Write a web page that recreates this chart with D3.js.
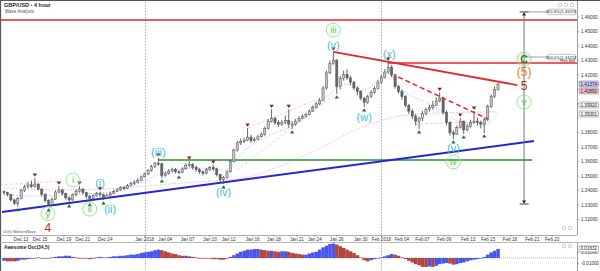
<!DOCTYPE html>
<html><head><meta charset="utf-8">
<script src="https://cdn.jsdelivr.net/npm/d3@7"></script>
<style>
body{margin:0;background:#fff;}
svg{display:block;font-family:"Liberation Sans",Arial,sans-serif;}
</style></head>
<body><svg id="c" width="600" height="271"></svg>
<script>
// ---------- DATA ----------
const firstOpen = 1.3392;
const closes = [1.3385,1.3372,1.3335,1.3310,1.3345,1.3400,1.3425,1.3440,1.3430,1.3445,
1.3410,1.3375,1.3330,1.3305,1.3340,1.3390,1.3405,1.3378,1.3350,1.3335,
1.3370,1.3395,1.3410,1.3385,1.3360,1.3345,1.3365,1.3378,1.3372,1.3350,
1.3368,1.3382,1.3395,1.3405,1.3420,1.3415,1.3435,1.3450,1.3458,1.3470,
1.3495,1.3515,1.3540,1.3565,1.3590,1.3585,1.3505,1.3520,1.3535,1.3545,
1.3530,1.3525,1.3550,1.3575,1.3580,1.3560,1.3545,1.3530,1.3520,1.3545,
1.3560,1.3550,1.3510,1.3475,1.3490,1.3530,1.3600,1.3680,1.3730,1.3740,
1.3748,1.3770,1.3745,1.3755,1.3772,1.3790,1.3830,1.3880,1.3900,1.3870,
1.3858,1.3870,1.3885,1.3860,1.3860,1.3880,1.3900,1.3915,1.3925,1.3950,
1.3975,1.4000,1.4025,1.4110,1.4215,1.4280,1.4300,1.4120,1.4175,1.4205,
1.4180,1.4150,1.4110,1.4085,1.4040,1.4010,1.4050,1.4080,1.4105,1.4150,
1.4185,1.4220,1.4250,1.4200,1.4120,1.4085,1.4050,1.3990,1.3950,1.3915,
1.3880,1.3900,1.3935,1.3960,1.3975,1.3990,1.4020,1.4040,1.3940,1.3870,
1.3800,1.3790,1.3835,1.3880,1.3820,1.3845,1.3870,1.3880,1.3870,1.3860,
1.3890,1.3980,1.4050,1.4100,1.4137];
const highs = [1.3402,1.3392,1.3375,1.3345,1.3355,1.3412,1.3440,1.3462,1.3470,1.3487,
1.3450,1.3415,1.3380,1.3340,1.3352,1.3400,1.3432,1.3412,1.3385,1.3360,
1.3380,1.3410,1.3431,1.3418,1.3392,1.3370,1.3375,1.3390,1.3392,1.3378,
1.3380,1.3392,1.3408,1.3418,1.3430,1.3432,1.3445,1.3462,1.3472,1.3485,
1.3505,1.3525,1.3550,1.3578,1.3600,1.3625,1.3592,1.3530,1.3548,1.3558,
1.3555,1.3540,1.3562,1.3590,1.3604,1.3590,1.3572,1.3555,1.3540,1.3558,
1.3570,1.3577,1.3558,1.3515,1.3500,1.3540,1.3612,1.3690,1.3745,1.3760,
1.3765,1.3833,1.3785,1.3770,1.3785,1.3802,1.3842,1.3895,1.3962,1.3912,
1.3885,1.3890,1.3920,1.3962,1.3880,1.3895,1.3915,1.3928,1.3940,1.3962,
1.3990,1.4015,1.4040,1.4122,1.4230,1.4300,1.4358,1.4310,1.4195,1.4230,
1.4240,1.4195,1.4160,1.4120,1.4095,1.4045,1.4062,1.4095,1.4120,1.4165,
1.4200,1.4240,1.4290,1.4270,1.4210,1.4130,1.4100,1.4060,1.4000,1.3965,
1.3930,1.3912,1.3950,1.3975,1.3995,1.4020,1.4045,1.4080,1.4050,1.3955,
1.3880,1.3815,1.3850,1.3902,1.3885,1.3860,1.3890,1.3950,1.3905,1.3885,
1.3905,1.3995,1.4065,1.4120,1.4145];
const lows = [1.3370,1.3360,1.3325,1.3300,1.3288,1.3340,1.3390,1.3415,1.3418,1.3420,
1.3400,1.3360,1.3318,1.3287,1.3300,1.3335,1.3380,1.3365,1.3335,1.3314,
1.3330,1.3360,1.3385,1.3370,1.3345,1.3322,1.3340,1.3358,1.3355,1.3335,
1.3345,1.3360,1.3375,1.3388,1.3398,1.3402,1.3410,1.3430,1.3440,1.3452,
1.3465,1.3490,1.3505,1.3530,1.3555,1.3570,1.3487,1.3495,1.3510,1.3525,
1.3518,1.3514,1.3520,1.3545,1.3560,1.3545,1.3530,1.3515,1.3505,1.3512,
1.3535,1.3535,1.3498,1.3462,1.3445,1.3480,1.3525,1.3595,1.3670,1.3715,
1.3728,1.3742,1.3730,1.3735,1.3748,1.3765,1.3780,1.3822,1.3870,1.3855,
1.3840,1.3848,1.3860,1.3835,1.3826,1.3850,1.3875,1.3895,1.3905,1.3920,
1.3945,1.3968,1.3990,1.4020,1.4100,1.4205,1.4270,1.4068,1.4100,1.4160,
1.4165,1.4130,1.4095,1.4060,1.4025,1.3978,1.4000,1.4040,1.4070,1.4098,
1.4140,1.4175,1.4210,1.4185,1.4105,1.4070,1.4030,1.3975,1.3930,1.3895,
1.3850,1.3826,1.3880,1.3920,1.3945,1.3960,1.3985,1.4010,1.3925,1.3850,
1.3780,1.3757,1.3785,1.3830,1.3791,1.3810,1.3835,1.3860,1.3850,1.3830,
1.3798,1.3880,1.3970,1.4040,1.4090];
const aoValues = [-0.005,-0.006,-0.006,-0.006,-0.005,-0.003,-0.003,-0.002,-0.001,0.000,
0.001,0.000,-0.001,-0.001,0.001,0.002,0.003,0.003,0.004,0.004,
0.002,0.001,0.000,-0.001,-0.001,-0.002,-0.001,0.001,0.002,0.001,
0.001,0.002,0.003,0.003,0.004,0.004,0.005,0.006,0.006,0.007,
0.009,0.010,0.011,0.012,0.014,0.015,0.014,0.012,0.010,0.008,
0.007,0.005,0.004,0.004,0.003,0.002,0.001,0.000,-0.001,-0.001,
-0.001,-0.002,-0.002,-0.003,-0.003,-0.001,0.002,0.005,0.008,0.011,
0.013,0.015,0.015,0.016,0.016,0.015,0.014,0.013,0.013,0.012,
0.011,0.012,0.012,0.011,0.009,0.008,0.007,0.006,0.006,0.008,
0.010,0.011,0.015,0.019,0.022,0.025,0.026,0.024,0.021,0.018,
0.015,0.012,0.009,0.005,0.001,-0.004,-0.006,-0.004,-0.002,0.000,
0.001,0.003,0.005,0.007,0.006,0.004,0.001,-0.002,-0.005,-0.008,
-0.011,-0.013,-0.016,-0.016,-0.015,-0.016,-0.014,-0.011,-0.010,-0.009,
-0.010,-0.012,-0.011,-0.009,-0.008,-0.006,-0.004,-0.003,-0.002,0.000,
0.002,0.006,0.010,0.013,0.016];

const dateLabels = ["Dec 13","Dec 15","Dec 19","Dec 21","Dec 24","Jan 2018","Jan 04","Jan 07","Jan 10","Jan 12","Jan 16","Jan 18","Jan 21","Jan 24","Jan 26","Jan 30","Feb 2018","Feb 04","Feb 07","Feb 09","Feb 13","Feb 15","Feb 18","Feb 21","Feb 23"];
const dateIdx = [5,10.5,17.5,23,29.5,41,47,53.5,60,65.5,72.5,78.7,85.4,90.6,97,104,110,116,122,128.3,135.3,141.1,147.5,154,159.8];
const monthStartIdx = [41,110];
const priceTicks = [1.32,1.33,1.34,1.35,1.36,1.37,1.38,1.39,1.40,1.41,1.42,1.43,1.44,1.45,1.46];
const priceBoxVals = [1.41374,1.40890,1.39920,1.39301];
const priceBoxKinds = ["last","pink","grey","grey"];
const oscTicks = [0.01,-0.01];
const oscBoxVal = 0.01632;

const swingHighIdx = [9,16,22,28,45,54,61,71,78,83,96,112,127,133,137];
const swingLowIdx = [4,13,19,25,29,46,51,64,84,97,105,121,131,134,140];

const fastMaIdx = [0,10.5,22.2,30.9,39.7,46.9,57.1,64.4,70.3,77.6,86.3,94.2,99.4,105.2,111.7,115.5,124.2,132.9,138.8,144];
const fastMaVal = [1.3369,1.3362,1.3376,1.3390,1.3452,1.3528,1.3556,1.3542,1.3681,1.3784,1.3874,1.4054,1.4137,1.4096,1.4213,1.4110,1.3999,1.3874,1.3847,1.3930];
const slowMaIdx = [0,16.3,33.8,51.3,69.7,80.5,92.1,103.8,115.5,127.1,144];
const slowMaVal = [1.3418,1.3404,1.3418,1.3452,1.3487,1.3570,1.3694,1.3833,1.3916,1.3937,1.3944];
const channelSegs = [[-1.2,1.3438,16.3,1.3466],[67.9,1.3542,96.5,1.4068],[71.1,1.3833,90.7,1.4027],[119.8,1.3861,137.3,1.3874]];

const topResistance = 1.4580;
const sideResistance = {from:112, price:1.4283};
const redTrend = [96,1.4359,149.6,1.4130];
const redDashed = [114.9,1.4186,141.1,1.3895];
const greenLevel = {from:45, to:154, price:1.3611};
const blueTrend = [-0.6,1.3252,154.5,1.3743];
const projIdx = 151.6, projTop = 1.4636, projBottom = 1.3307;
const fibLabels = ["261.8%(1.46376)","200.0%(1.43224)"];
const fibPrices = [1.4636,1.4324];

const waveText  = ["iii","(v)","(x)","(w)","(v)","iv","(iii)","(iv)","i","(i)","ii","(ii)","y","4","v","C","(5)","5"];
const waveIdx   = [96,96,112.3,105,131,131,45,64,20.1,28,25,30.9,12.8,12.8,151.6,151.6,151.6,151.6];
const wavePrice = [1.4511,1.4407,1.4345,1.3909,1.3694,1.3598,1.3667,1.3390,1.3473,1.3452,1.3272,1.3272,1.3240,1.3145,1.4013,1.4310,1.4220,1.4124];
const waveKind  = ["g","c","c","c","c","g","c","c","g","c","g","c","g","b","g","C","o","b"];

// ---------- LAYOUT ----------
const AX = 577, MTOP = 1, MBOT = 235, OTOP = 243, OBOT = 271;
const svg = d3.select("#c");
const x = d3.scaleLinear().domain([0,144]).range([4,498]);
const y = d3.scaleLinear().domain([1.33,1.46]).range([205,17.15]);
const yo = d3.scaleLinear().domain([-0.01,0.01]).range([263.6,252.4]);
const bw = x(1)-x(0);

svg.append("rect").attr("width",600).attr("height",271).attr("fill","#fff");
const defs = svg.append("defs");
defs.append("clipPath").attr("id","mclip").append("rect").attr("x",1).attr("y",MTOP).attr("width",AX-1).attr("height",MBOT-MTOP);
defs.append("clipPath").attr("id","oclip").append("rect").attr("x",1).attr("y",OTOP).attr("width",AX-1).attr("height",OBOT-OTOP);

// month separators
monthStartIdx.forEach(i=>{
  svg.append("line").attr("x1",Math.round(x(i))+0.5).attr("x2",Math.round(x(i))+0.5).attr("y1",2).attr("y2",271)
    .attr("stroke","#999").attr("stroke-dasharray","1.5,1.5").attr("stroke-width",0.8);
});

const m = svg.append("g").attr("clip-path","url(#mclip)");

// MAs and channel lines
const lineGen = d3.line().x(d=>x(d[0])).y(d=>y(d[1])).curve(d3.curveMonotoneX);
m.append("path").attr("d",lineGen(fastMaIdx.map((d,i)=>[d,fastMaVal[i]]))).attr("fill","none")
  .attr("stroke","#a9bdf0").attr("stroke-width",0.8).attr("stroke-dasharray","1.5,1.5");
m.append("path").attr("d",lineGen(slowMaIdx.map((d,i)=>[d,slowMaVal[i]]))).attr("fill","none")
  .attr("stroke","#d7a8e0").attr("stroke-width",0.8).attr("stroke-dasharray","1.5,1.5");
channelSegs.forEach(s=>{
  m.append("line").attr("x1",x(s[0])).attr("y1",y(s[1])).attr("x2",x(s[2])).attr("y2",y(s[3]))
    .attr("stroke","#f2c49a").attr("stroke-width",0.8).attr("stroke-dasharray","3,2");
});

// annotation lines
m.append("line").attr("x1",0).attr("x2",AX).attr("y1",y(topResistance)).attr("y2",y(topResistance)).attr("stroke","#e8262a").attr("stroke-width",1.5);
m.append("line").attr("x1",x(sideResistance.from)).attr("x2",AX).attr("y1",y(sideResistance.price)).attr("y2",y(sideResistance.price)).attr("stroke","#e8262a").attr("stroke-width",1.5);
m.append("line").attr("x1",x(greenLevel.from)).attr("x2",x(greenLevel.to)).attr("y1",y(greenLevel.price)).attr("y2",y(greenLevel.price)).attr("stroke","#2f8f2f").attr("stroke-width",1.5);
m.append("line").attr("x1",x(blueTrend[0])).attr("y1",y(blueTrend[1])).attr("x2",x(blueTrend[2])).attr("y2",y(blueTrend[3])).attr("stroke","#2424d8").attr("stroke-width",2);

// candles
const candles = m.append("g");
closes.forEach((c,i)=>{
  const o = i===0 ? firstOpen : closes[i-1];
  const cx = x(i);
  candles.append("line").attr("x1",cx).attr("x2",cx).attr("y1",y(highs[i])).attr("y2",y(lows[i])).attr("stroke","#555").attr("stroke-width",0.9);
  const top = y(Math.max(o,c)), h = Math.max(1, Math.abs(y(o)-y(c)));
  candles.append("rect").attr("x",cx-1.1).attr("y",top).attr("width",2.2).attr("height",h)
    .attr("fill", c>=o ? "#c4c4c4" : "#666").attr("stroke","#555").attr("stroke-width",0.5);
});

// red trend lines (over candles)
m.append("line").attr("x1",x(redTrend[0])).attr("y1",y(redTrend[1])).attr("x2",x(redTrend[2])).attr("y2",y(redTrend[3])).attr("stroke","#e8262a").attr("stroke-width",1.8);
m.append("line").attr("x1",x(redDashed[0])).attr("y1",y(redDashed[1])).attr("x2",x(redDashed[2])).attr("y2",y(redDashed[3])).attr("stroke","#e8262a").attr("stroke-width",1.5).attr("stroke-dasharray","5,3");

// swing markers
swingHighIdx.forEach(i=>{
  const cx=x(i), cy=y(highs[i]);
  m.append("path").attr("d",`M${cx-2.2},${cy-4.5}L${cx+2.2},${cy-4.5}L${cx},${cy-1.3}Z`).attr("fill","#8a1c1c");
});
swingLowIdx.forEach(i=>{
  const cx=x(i), cy=y(lows[i]);
  m.append("path").attr("d",`M${cx-2.2},${cy+4.5}L${cx+2.2},${cy+4.5}L${cx},${cy+1.3}Z`).attr("fill","#1f7a1f");
});

// projection
const px = x(projIdx);
m.append("line").attr("x1",px).attr("x2",px).attr("y1",y(projTop)).attr("y2",y(projBottom)).attr("stroke","#777").attr("stroke-width",1);
[projTop,projBottom].forEach((p,k)=>{
  const yy=y(p);
  m.append("line").attr("x1",px-4.5).attr("x2",px+4.5).attr("y1",yy).attr("y2",yy).attr("stroke","#444").attr("stroke-width",1);
  const d = k===0 ? `M${px-2},${yy+3.5}L${px+2},${yy+3.5}L${px},${yy+0.5}Z` : `M${px-2},${yy-3.5}L${px+2},${yy-3.5}L${px},${yy-0.5}Z`;
  m.append("path").attr("d",d).attr("fill","#222");
});
fibPrices.forEach((p,k)=>{
  const yy=y(p);
  m.append("line").attr("x1",px).attr("x2",548).attr("y1",yy).attr("y2",yy).attr("stroke","#888").attr("stroke-width",0.8);
  m.append("rect").attr("x",548).attr("y",yy-2.8).attr("width",27.5).attr("height",5.6).attr("fill","#fff").attr("stroke","#888").attr("stroke-width",0.5).attr("rx",1);
  m.append("text").attr("x",561.8).attr("y",yy+1.5).attr("text-anchor","middle").attr("font-size",4.2).attr("fill","#333").text(fibLabels[k]);
});
m.append("text").attr("x",575).attr("y",y(sideResistance.price)-1).attr("text-anchor","end").attr("font-size",4).attr("fill","#222").text("Res 4x4");

// wave labels
waveText.forEach((t,k)=>{
  const cx=x(waveIdx[k]), cy=y(wavePrice[k]), kind=waveKind[k];
  if(kind==="g"){
    m.append("circle").attr("cx",cx).attr("cy",cy).attr("r",7).attr("fill","none").attr("stroke","#86e486").attr("stroke-width",0.9);
    m.append("text").attr("x",cx).attr("y",cy+3.2).attr("text-anchor","middle").attr("font-size",9.5).attr("fill","#3fcf3f").text(t);
  } else if(kind==="C"){
    m.append("circle").attr("cx",cx).attr("cy",cy).attr("r",7.2).attr("fill","none").attr("stroke","#9ad49a").attr("stroke-width",0.8);
    m.append("circle").attr("cx",cx).attr("cy",cy).attr("r",5.8).attr("fill","none").attr("stroke","#9ad49a").attr("stroke-width",0.6);
    m.append("text").attr("x",cx).attr("y",cy+3.6).attr("text-anchor","middle").attr("font-size",10.5).attr("font-weight","bold").attr("fill","#1f8a2a").text(t);
  } else if(kind==="c"){
    m.append("text").attr("x",cx).attr("y",cy+3.8).attr("text-anchor","middle").attr("font-size",11).attr("fill","#3cbfd0").text(t);
  } else if(kind==="o"){
    m.append("text").attr("x",cx).attr("y",cy+4.3).attr("text-anchor","middle").attr("font-size",12).attr("fill","#f07a22").text(t);
  } else {
    m.append("text").attr("x",cx).attr("y",cy+4.3).attr("text-anchor","middle").attr("font-size",12).attr("fill","#a8391b").text(t);
  }
});

// frame lines
svg.append("line").attr("x1",0).attr("x2",600).attr("y1",0.5).attr("y2",0.5).attr("stroke","#555").attr("stroke-width",1.2);
svg.append("line").attr("x1",0.5).attr("x2",0.5).attr("y1",0).attr("y2",271).attr("stroke","#555").attr("stroke-width",1.2);
svg.append("line").attr("x1",0).attr("x2",AX).attr("y1",MBOT+0.5).attr("y2",MBOT+0.5).attr("stroke","#999").attr("stroke-width",0.8);
svg.append("line").attr("x1",0).attr("x2",600).attr("y1",OTOP-0.5).attr("y2",OTOP-0.5).attr("stroke","#aaa").attr("stroke-width",0.8);
svg.append("line").attr("x1",AX+0.5).attr("x2",AX+0.5).attr("y1",MTOP).attr("y2",MBOT).attr("stroke","#888").attr("stroke-width",0.8);
svg.append("line").attr("x1",AX+0.5).attr("x2",AX+0.5).attr("y1",OTOP).attr("y2",OBOT).attr("stroke","#888").attr("stroke-width",0.8);

// title
svg.append("text").attr("x",4).attr("y",7).attr("font-size",5.5).attr("font-weight","bold").attr("fill","#222").text("GBP/USD - 4 hour");
svg.append("text").attr("x",5).attr("y",13).attr("font-size",4.5).attr("fill","#555").text("Wave Analysis");
svg.append("text").attr("x",3).attr("y",233).attr("font-size",4.2).attr("fill","#555").text("⊙⊙⊙  MotiveWave");
// small control icons
[[560,5],[566,5],[572,5],[564,228],[570,228],[564,246],[570,246]].forEach(p=>{
  svg.append("circle").attr("cx",p[0]).attr("cy",p[1]).attr("r",1.8).attr("fill","none").attr("stroke","#aaa").attr("stroke-width",0.6);
});

// price axis
const boxPix = priceBoxVals.map(v=>y(v));
priceTicks.forEach(p=>{
  const yy=y(p);
  if(yy<MTOP+3||yy>MBOT-2) return;
  svg.append("line").attr("x1",AX).attr("x2",AX+2).attr("y1",yy).attr("y2",yy).attr("stroke","#888").attr("stroke-width",0.6);
  if(boxPix.some(b=>Math.abs(b-yy)<5)) return;
  svg.append("text").attr("x",581).attr("y",yy+1.6).attr("font-size",4.6).attr("fill","#333").text(p.toFixed(5));
});
const boxFill = {last:"#c9c9f2",pink:"#eec4c4",grey:"#f4f4f4"};
const boxStroke = {last:"#6a6aa8",pink:"#b46a6a",grey:"#777"};
priceBoxVals.forEach((v,k)=>{
  const yy=y(v), kd=priceBoxKinds[k];
  svg.append("rect").attr("x",579).attr("y",yy-3).attr("width",19.5).attr("height",6).attr("fill",boxFill[kd]).attr("stroke",boxStroke[kd]).attr("stroke-width",0.5).attr("rx",1);
  svg.append("text").attr("x",580.5).attr("y",yy+1.6).attr("font-size",4.6).attr("fill","#222").text(v.toFixed(5));
});

// date axis
dateIdx.forEach((d,k)=>{
  const xx=x(d);
  svg.append("line").attr("x1",xx).attr("x2",xx).attr("y1",MBOT).attr("y2",MBOT+2).attr("stroke","#888").attr("stroke-width",0.6);
  svg.append("text").attr("x",xx).attr("y",240.5).attr("text-anchor","middle").attr("font-size",4.6).attr("fill","#333").text(dateLabels[k]);
});

// oscillator
const o = svg.append("g").attr("clip-path","url(#oclip)");
o.append("line").attr("x1",3).attr("x2",AX).attr("y1",yo(0)).attr("y2",yo(0)).attr("stroke","#888").attr("stroke-width",0.6).attr("stroke-dasharray","1,1");
aoValues.forEach((v,i)=>{
  const prev = i===0 ? v : aoValues[i-1];
  const rising = i===0 ? v<0 : v>prev || (v===prev && v>0);
  const y0=yo(0), y1=yo(v);
  o.append("rect").attr("x",x(i)-bw/2).attr("y",Math.min(y0,y1)).attr("width",bw+0.1).attr("height",Math.max(0.6,Math.abs(y1-y0)))
    .attr("fill", rising ? "#4a55ee" : "#b3473f");
});
svg.append("text").attr("x",4).attr("y",249).attr("font-size",4.8).attr("font-weight","bold").attr("fill","#222").text("Awesome Osc(34,5)");
oscTicks.forEach(t=>{
  svg.append("line").attr("x1",AX).attr("x2",AX+2).attr("y1",yo(t)).attr("y2",yo(t)).attr("stroke","#888").attr("stroke-width",0.6);
  svg.append("text").attr("x",581).attr("y",yo(t)+1.6).attr("font-size",4.6).attr("fill","#333").text(t.toFixed(5));
});
svg.append("rect").attr("x",579).attr("y",yo(oscBoxVal)-3).attr("width",19.5).attr("height",6).attr("fill","#fff").attr("stroke","#777").attr("stroke-width",0.5).attr("rx",1);
svg.append("text").attr("x",580.5).attr("y",yo(oscBoxVal)+1.6).attr("font-size",4.6).attr("fill","#222").text(oscBoxVal.toFixed(5));
</script>
</body></html>
